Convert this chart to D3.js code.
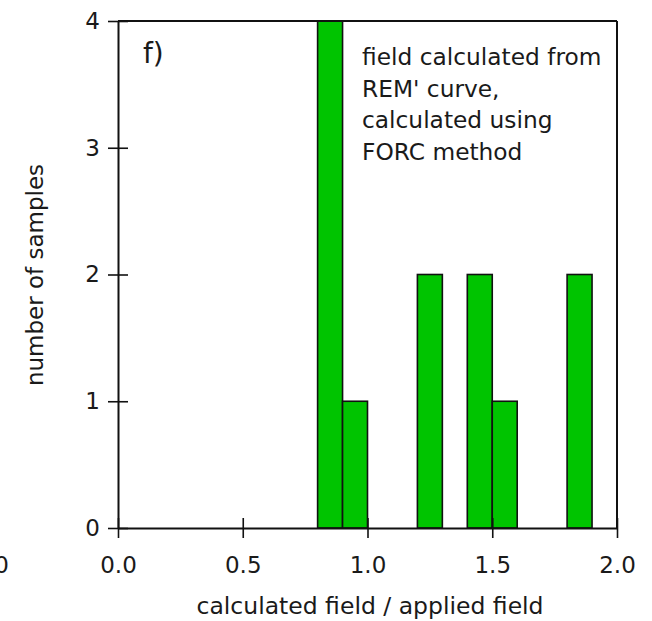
<!DOCTYPE html>
<html>
<head>
<meta charset="utf-8">
<script src="https://cdn.jsdelivr.net/npm/d3@7"></script>
<style>
  html, body { margin: 0; padding: 0; background: #fff; }
  svg { display: block; }
  text { font-family: "DejaVu Sans", "Liberation Sans", sans-serif; fill: #1a1a1a; }
</style>
</head>
<body>
<svg id="chart" width="652" height="621"></svg>
<script>
// Histogram of field ratios: bin edges and sample counts per bin
const binLo = [0.8, 0.9, 1.2, 1.4, 1.5, 1.8];
const binHi = [0.9, 1.0, 1.3, 1.5, 1.6, 1.9];
const counts = [4, 1, 2, 2, 1, 2];

const xTicks = [0, 0.5, 1.0, 1.5, 2.0];
const yTicks = [0, 1, 2, 3, 4];

const xTitle = "calculated field / applied field";
const yTitle = "number of samples";
const panelLabel = "f)";
const noteLines = ["field calculated from", "REM' curve,", "calculated using", "FORC method"];

const svg = d3.select("#chart");
const fontSize = 23;

const x = d3.scaleLinear().domain([0, 2]).range([118, 617]);
const y = d3.scaleLinear().domain([0, 4]).range([528, 21]);

// bars
svg.append("g")
  .selectAll("rect")
  .data(counts.map((c, i) => ({ lo: binLo[i], hi: binHi[i], c })))
  .join("rect")
  .attr("x", d => x(d.lo))
  .attr("y", d => y(d.c))
  .attr("width", d => x(d.hi) - x(d.lo))
  .attr("height", d => y(0) - y(d.c))
  .attr("fill", "#00c400")
  .attr("stroke", "#111")
  .attr("stroke-width", 1.6);

// frame: top and right edges
svg.append("line")
  .attr("x1", x(0)).attr("x2", x(2))
  .attr("y1", y(4)).attr("y2", y(4))
  .attr("stroke", "#111").attr("stroke-width", 2);
svg.append("line")
  .attr("x1", x(2)).attr("x2", x(2))
  .attr("y1", y(4)).attr("y2", y(0))
  .attr("stroke", "#111").attr("stroke-width", 2);

// bottom axis, ticks crossing the axis line
const gx = svg.append("g")
  .attr("transform", `translate(0,${y(0)})`)
  .call(d3.axisBottom(x).tickValues(xTicks).tickFormat(d3.format(".1f"))
    .tickSize(10).tickSizeOuter(0).tickPadding(19));
gx.selectAll(".tick line").attr("y1", -10);

// left axis, ticks crossing the axis line
const gy = svg.append("g")
  .attr("transform", `translate(${x(0)},0)`)
  .call(d3.axisLeft(y).tickValues(yTicks).tickFormat(d3.format("d"))
    .tickSize(10).tickSizeOuter(0).tickPadding(8));
gy.selectAll(".tick line").attr("x1", 10);

[gx, gy].forEach(g => {
  g.select(".domain").attr("stroke", "#111").attr("stroke-width", 2);
  g.selectAll(".tick line").attr("stroke", "#111").attr("stroke-width", 1.6);
  g.selectAll(".tick text")
    .attr("font-size", fontSize)
    .attr("font-family", "DejaVu Sans, sans-serif")
    .attr("fill", "#1a1a1a");
});

// axis titles
svg.append("text")
  .attr("x", 370).attr("y", 614)
  .attr("text-anchor", "middle")
  .attr("font-size", fontSize + 0.5)
  .text(xTitle);

svg.append("text")
  .attr("transform", "translate(43,275) rotate(-90)")
  .attr("text-anchor", "middle")
  .attr("font-size", fontSize)
  .text(yTitle);

// panel label
svg.append("text")
  .attr("x", 143).attr("y", 63)
  .attr("font-size", 28)
  .text(panelLabel);

// annotation block
svg.append("g")
  .selectAll("text")
  .data(noteLines)
  .join("text")
  .attr("x", 362)
  .attr("y", (d, i) => 65 + i * 31.7)
  .attr("font-size", fontSize + 0.3)
  .text(d => d);

// trailing tick label of the neighbouring panel at the left edge
svg.append("text")
  .attr("x", 9).attr("y", 573)
  .attr("text-anchor", "end")
  .attr("font-size", fontSize)
  .text("2.0");
</script>
</body>
</html>
